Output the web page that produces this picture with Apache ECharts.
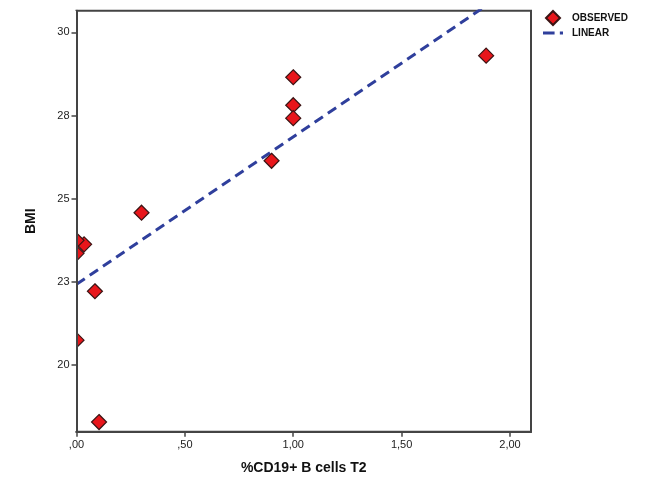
<!DOCTYPE html>
<html>
<head>
<meta charset="utf-8">
<script src="https://cdn.jsdelivr.net/npm/echarts@6/dist/echarts.min.js"></script>
<style>
html,body{margin:0;padding:0;background:#fff;}
#chart{width:670px;height:483px;}
</style>
</head>
<body>
<div id="chart"></div>
<script>
// Observed points: [%CD19+ B cells T2, BMI]
const observedX = [1.89, 1.00, 1.00, 1.00, 0.90, 0.30, 0.035, 0.00, 0.00, 0.085, 0.00, 0.104];
const observedY = [29.30, 28.65, 27.81, 27.42, 26.14, 24.58, 23.63, 23.75, 23.36, 22.22, 20.75, 18.29];
// Linear fit endpoints
const linearX = [0, 2.097];
const linearY = [22.43, 31.72];
// Tick values and their printed labels
const xTickValues = [0, 0.5, 1.0, 1.5, 2.0];
const xTickLabels = [',00', ',50', '1,00', '1,50', '2,00'];
const yTickValues = [20, 22.5, 25, 27.5, 30];
const yTickLabels = ['20', '23', '25', '28', '30'];

const FONT = '"Liberation Sans", Arial, sans-serif';
const chart = echarts.init(document.getElementById('chart'));

const observed = observedX.map((x, i) => [x, observedY[i]]);
const linear = linearX.map((x, i) => [x, linearY[i]]);

chart.setOption({
  animation: false,
  backgroundColor: '#fff',
  grid: {
    left: 76.5, right: 139, top: 10.7, bottom: 51.3,
    show: true, borderColor: '#444', borderWidth: 2, backgroundColor: 'transparent'
  },
  legend: {
    orient: 'vertical',
    left: 538, top: 5,
    itemGap: 2,
    itemWidth: 20, itemHeight: 14,
    symbolKeepAspect: true,
    textStyle: { fontFamily: FONT, fontSize: 10, fontWeight: 'bold', color: '#111', padding: [0, 0, 0, 4] },
    data: [
      { name: 'OBSERVED', icon: 'path://M7,0L14,7L7,14L0,7Z' },
      { name: 'LINEAR', icon: 'path://M0,0H11V3H0Z M16,0H19V3H16Z' }
    ]
  },
  xAxis: {
    type: 'value', min: 0, max: 2.097, z: 10,
    name: '%CD19+ B cells T2', nameLocation: 'middle', nameGap: 29,
    nameTextStyle: { fontFamily: FONT, fontSize: 14, fontWeight: 'bold', color: '#111' },
    axisLine: { show: true, lineStyle: { color: '#444', width: 2 } },
    axisTick: { show: true, length: 5, customValues: xTickValues, lineStyle: { color: '#444', width: 1.5 } },
    axisLabel: {
      customValues: xTickValues, fontFamily: FONT, fontSize: 11, color: '#222', margin: 8,
      formatter: v => xTickLabels[xTickValues.indexOf(v)] ?? ''
    },
    splitLine: { show: false }
  },
  yAxis: {
    type: 'value', min: 18, max: 30.65, z: 10,
    name: 'BMI', nameLocation: 'middle', nameGap: 38, nameRotate: 90,
    nameTextStyle: { fontFamily: FONT, fontSize: 14, fontWeight: 'bold', color: '#111' },
    axisLine: { show: true, lineStyle: { color: '#444', width: 2 } },
    axisTick: { show: true, length: 5, customValues: yTickValues, lineStyle: { color: '#444', width: 1.5 } },
    axisLabel: {
      customValues: yTickValues, fontFamily: FONT, fontSize: 11, color: '#222', margin: 7,
      formatter: v => yTickLabels[yTickValues.indexOf(v)] ?? ''
    },
    splitLine: { show: false }
  },
  graphic: {
    elements: [{
      type: 'rect', z: 5, silent: true,
      shape: { x: 55, y: 11, width: 21, height: 420 },
      style: { fill: '#fff' }
    }]
  },
  series: [
    {
      name: 'LINEAR', type: 'line', data: linear, z: 2,
      showSymbol: false, symbol: 'none',
      lineStyle: { color: '#2f3f9c', width: 3, type: [10, 6] },
      itemStyle: { color: '#2f3f9c' }
    },
    {
      name: 'OBSERVED', type: 'scatter', data: observed, z: 3,
      symbol: 'diamond', symbolSize: 15, clip: false,
      itemStyle: { color: '#e8161b', borderColor: '#3a1414', borderWidth: 1.2, opacity: 1 }
    }
  ]
});
</script>
</body>
</html>
